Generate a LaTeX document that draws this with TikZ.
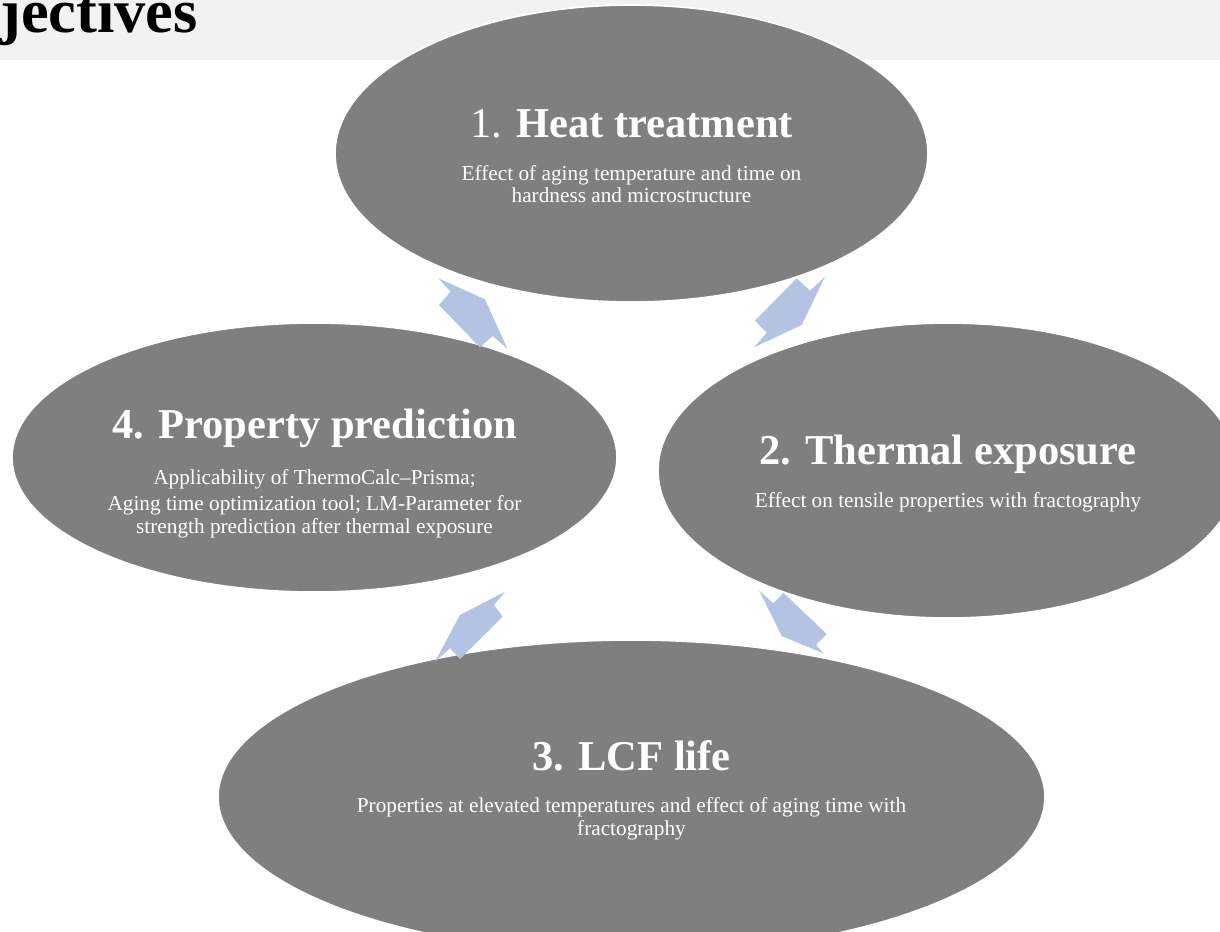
\documentclass[tikz,border=0pt]{standalone}
\usepackage{fontspec}
\setmainfont{Liberation Serif}
\usepackage{tikz}
\usetikzlibrary{shapes,shapes.geometric}
\definecolor{cyclegray}{RGB}{127,127,127}
\definecolor{bandgray}{RGB}{242,242,242}
\definecolor{arrowblue}{RGB}{180,194,227}
\tikzset{
	ovalnode/.style={ellipse, fill=cyclegray, draw=white, line width=0.9pt, inner sep=0pt},
	titletext/.style={text=white, anchor=base, inner sep=0pt, font=\fontsize{24.2}{29}\selectfont\bfseries},
	subtext/.style={text=white, anchor=base, inner sep=0pt, align=center, font=\fontsize{12.1}{12.6}\selectfont}
}
\begin{document}
\begin{tikzpicture}[x=0.02cm,y=-0.02cm]
			\useasboundingbox (0,0) rectangle (1220,931);
			\clip (0,0) rectangle (1220,931);
			% header band
			\fill [bandgray] (0,0) rectangle (1220,60);
			\node [anchor=base west, inner sep=0pt, font=\fontsize{35.5}{40}\selectfont\bfseries] (head) at (0,32) {jectives};
			
			% the four stages
			\node [ovalnode, minimum width=11.86cm, minimum height=5.94cm] (heat) at (631.5,153.5) {};
			\node [ovalnode, minimum width=11.60cm, minimum height=5.90cm] (therm) at (948,470.5) {};
			\node [ovalnode, minimum width=16.54cm, minimum height=6.28cm] (lcf) at (631.5,797) {};
			\node [ovalnode, minimum width=12.10cm, minimum height=5.38cm] (prop) at (314.5,457.5) {};
			
			\node [titletext] (heatT) at (631.5,137) {\mdseries 1. \bfseries Heat treatment};
			\node [subtext] (heatS) at (631.5,202.5) {Effect of aging temperature and time on\\ hardness and microstructure};
			\node [titletext] (thermT) at (948,464) {2. Thermal exposure};
			\node [subtext] (thermS) at (948,507) {Effect on tensile properties with fractography};
			\node [titletext] (lcfT) at (631.5,770) {3. LCF life};
			\node [subtext] (lcfS) at (631.5,835) {Properties at elevated temperatures and effect of aging time with\\ fractography};
			\node [titletext] (propT) at (314.5,438) {4. Property prediction};
			\node [subtext] (propA) at (314.5,484) {Applicability of ThermoCalc--Prisma;};
			\node [subtext] (propS) at (314.5,533) {Aging time optimization tool; LM-Parameter for\\ strength prediction after thermal exposure};
			
			% cycle arrows
			\fill [arrowblue] (438.3,278.3) -- (485,299.3) -- (507.3,348.7) -- (492.7,336) -- (480,347.3) -- (439,305) -- (450.7,291.7) -- cycle;
			\fill [arrowblue] (796.7,278.3) -- (810,290.7) -- (825,276.7) -- (801.7,325) -- (754,347.3) -- (766.7,332.7) -- (755,320.7) -- cycle;
			\fill [arrowblue] (783.3,592.7) -- (826.7,634) -- (816,645) -- (823.3,653.3) -- (781.7,636) -- (759.3,590.7) -- (773.3,603.3) -- cycle;
			\fill [arrowblue] (505,591.7) -- (494,605) -- (502.7,616.7) -- (460,659) -- (450,648.3) -- (435,661.7) -- (460,615) -- cycle;
		\end{tikzpicture}
\end{document}
